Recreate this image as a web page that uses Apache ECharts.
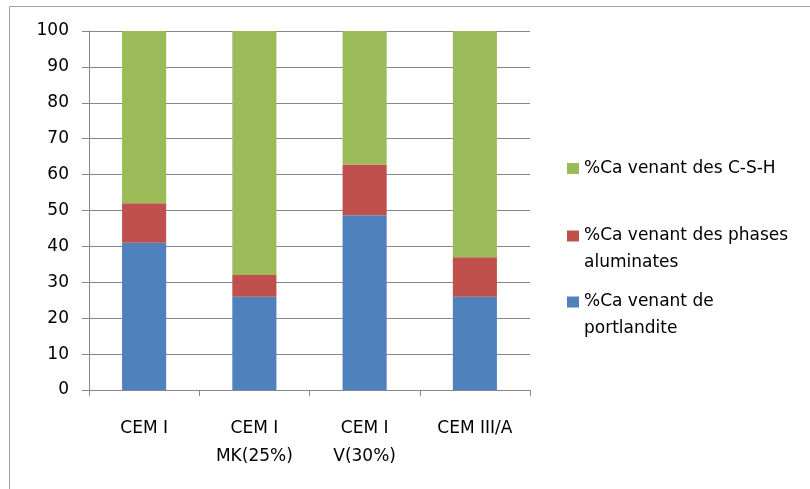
<!DOCTYPE html>
<html>
<head>
<meta charset="utf-8">
<script src="https://cdn.jsdelivr.net/npm/echarts@6/dist/echarts.min.js"></script>
<style>html,body{margin:0;padding:0;background:#fff}#c{width:810px;height:489px}</style>
</head>
<body>
<div id="c"></div>
<script>
var categories = ['CEM I', 'CEM I\nMK(25%)', 'CEM I\nV(30%)', 'CEM III/A'];
var portlandite = [41, 26, 48.7, 26];
var aluminates = [11, 6, 14.1, 11];
var csh = [48, 68, 37.2, 63];
var yTicks = [0, 10, 20, 30, 40, 50, 60, 70, 80, 90, 100];

var nameP = '%Ca venant de portlandite';
var nameA = '%Ca venant des phases aluminates';
var nameC = '%Ca venant des C-S-H';
var legendLabels = {};
legendLabels[nameP] = '\n%Ca venant de\nportlandite';
legendLabels[nameA] = '\n%Ca venant des phases\naluminates';
legendLabels[nameC] = '%Ca venant des C-S-H';

var FONT = 'DejaVu Sans';
var FS = 17;
var gray = '#888888';

function legendFor(name, top) {
  return {
    data: [name],
    left: 567,
    top: top,
    orient: 'vertical',
    padding: 0,
    itemWidth: 12,
    itemHeight: 11,
    icon: 'rect',
    selectedMode: false,
    formatter: function (n) { return legendLabels[n]; },
    textStyle: {fontFamily: FONT, fontSize: FS, color: '#000', lineHeight: 27}
  };
}

var chart = echarts.init(document.getElementById('c'), null, {renderer: 'canvas'});
chart.setOption({
  animation: false,
  backgroundColor: '#fff',
  graphic: [{
    type: 'polyline',
    shape: {points: [[9.5, 489], [9.5, 6.5], [810, 6.5]]},
    style: {stroke: '#a0a0a0', lineWidth: 1, fill: null},
    silent: true
  }],
  grid: {left: 89, top: 31, width: 441, height: 359, containLabel: false},
  legend: [
    legendFor(nameC, 155),
    legendFor(nameA, 195.5),
    legendFor(nameP, 261.5)
  ],
  xAxis: {
    type: 'category',
    data: categories,
    axisLine: {lineStyle: {color: gray, width: 1}},
    axisTick: {show: true, length: 6, lineStyle: {color: gray}},
    axisLabel: {fontFamily: FONT, fontSize: FS, color: '#000', lineHeight: 28, margin: 25, interval: 0}
  },
  yAxis: {
    type: 'value',
    min: yTicks[0],
    max: yTicks[yTicks.length - 1],
    interval: yTicks[1] - yTicks[0],
    axisLine: {show: true, lineStyle: {color: gray, width: 1}},
    axisTick: {show: true, length: 7, lineStyle: {color: gray}},
    splitLine: {show: true, lineStyle: {color: gray, width: 1}},
    axisLabel: {fontFamily: FONT, fontSize: FS, color: '#000', margin: 20}
  },
  series: [
    {name: nameP, type: 'bar', stack: 's', data: portlandite, barWidth: '40%', itemStyle: {color: '#4F81BD'}},
    {name: nameA, type: 'bar', stack: 's', data: aluminates, itemStyle: {color: '#C0504D'}},
    {name: nameC, type: 'bar', stack: 's', data: csh, itemStyle: {color: '#9BBB59'}}
  ]
});
</script>
</body>
</html>
